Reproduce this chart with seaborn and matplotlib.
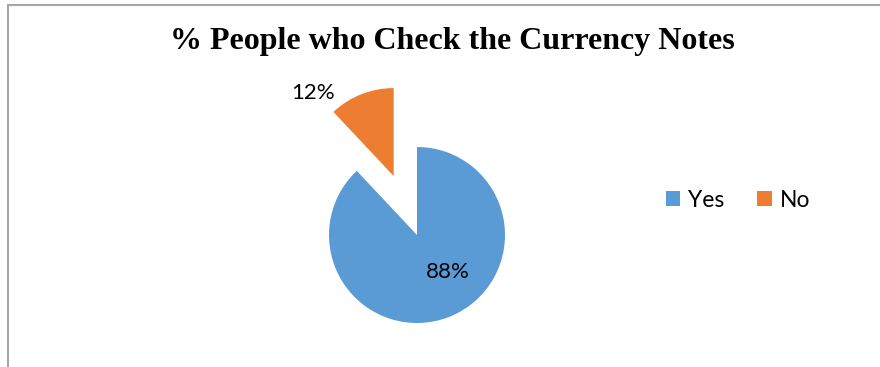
import matplotlib
matplotlib.use("Agg")
import matplotlib.pyplot as plt
from matplotlib.lines import Line2D
from matplotlib.patches import Patch
import seaborn as sns

categories = ["Yes", "No"]
shares = [88, 12]
colors = ["#5B9BD5", "#ED7D31"]
title = "% People who Check the Currency Notes"

sns.set_theme(style="white")
plt.rcParams["font.family"] = ["Lato", "DejaVu Sans"]
plt.rcParams["text.color"] = "black"

W, H, DPI = 880, 367, 100
fig = plt.figure(figsize=(W / DPI, H / DPI), dpi=DPI)
fig.patch.set_facecolor("white")

# axes spanning the figure; one data unit = pie radius in pixels
cx, cy, r = 417, 235, 88
ax = fig.add_axes([0, 0, 1, 1])
wedges, _, autotexts = ax.pie(
    shares,
    colors=colors,
    startangle=90,
    counterclock=False,
    explode=[0, 0.72],
    radius=1,
    autopct=lambda p: f"{p:.0f}%",
    textprops=dict(fontsize=16, color="black"),
    wedgeprops=dict(linewidth=0),
)
ax.set_xlim((0 - cx) / r, (W - cx) / r)
ax.set_ylim((cy - H) / r, (cy - 0) / r)
ax.set_aspect("auto")
ax.axis("off")

# label placement
label_pos = [((448 - cx) / r, (cy - 272) / r), ((313 - cx) / r, (cy - 93) / r)]
for t, (x, y) in zip(autotexts, label_pos):
    t.set_position((x, y))
    t.set_ha("center")
    t.set_va("center")

fig.text(452 / W, 1 - 41 / H, title, ha="center", va="center", color="black",
         fontsize=23, fontweight="bold", family=["Liberation Serif"])

handles = [Patch(facecolor=c, edgecolor="none", label=l) for c, l in zip(colors, categories)]
fig.legend(handles=handles, loc="center", bbox_to_anchor=(738 / W, 1 - 200 / H),
           ncol=2, frameon=False, fontsize=16.5, handlelength=0.62, handleheight=0.62,
           handletextpad=0.35, columnspacing=1.45, labelcolor="black")

# chart border visible along the top and left
grey = "#A6A6A6"
fig.add_artist(Line2D([7.5 / W, 7.5 / W], [0, 1 - 5 / H], color=grey, lw=1.5))
fig.add_artist(Line2D([7.5 / W, 1], [1 - 5 / H, 1 - 5 / H], color=grey, lw=1.5))

fig.savefig("out.png", dpi=DPI)
